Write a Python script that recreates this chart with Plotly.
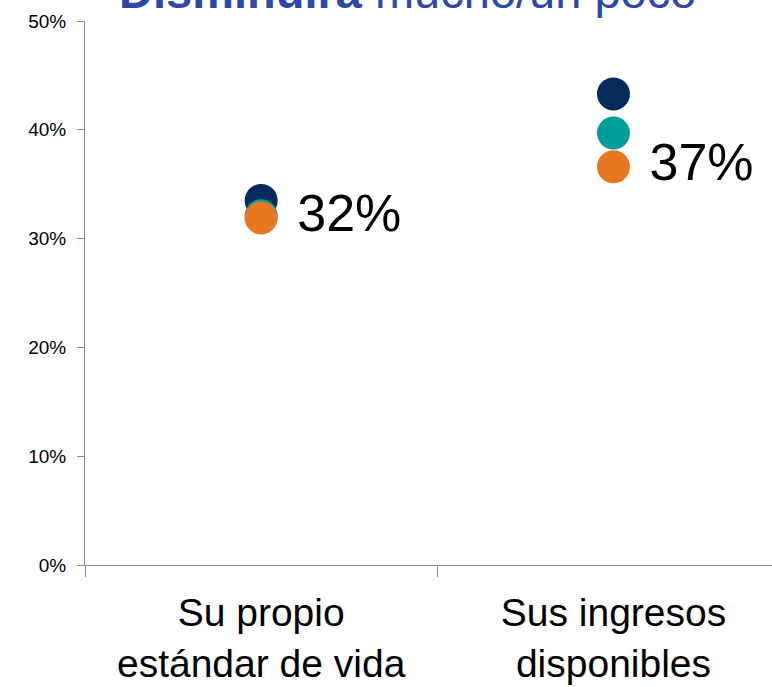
import plotly.graph_objects as go

categories = ["Su propio<br>estándar de vida", "Sus ingresos<br>disponibles"]
serie_navy = [0.335, 0.433]
serie_teal = [0.321, 0.397]
serie_orange = [0.319, 0.366]
tick_vals = [0, 0.1, 0.2, 0.3, 0.4, 0.5]
title_bold = "Disminuirá"
title_rest = "mucho/un poco"

colors = ["#052A5C", "#009E9A", "#E87722"]
series = [serie_navy, serie_teal, serie_orange]

fig = go.Figure()
for i, (vals, col) in enumerate(zip(series, colors)):
    is_last = i == len(series) - 1
    fig.add_trace(go.Scatter(
        x=categories, y=vals,
        mode="markers+text" if is_last else "markers",
        marker=dict(size=33, color=col, line=dict(width=0)),
        text=[f" {round(v*100)}%" for v in vals] if is_last else None,
        textposition="middle right",
        textfont=dict(family="Liberation Sans, Arial", size=52, color="#000000"),
        showlegend=False, cliponaxis=False,
    ))

fig.add_annotation(
    xref="paper", yref="paper", x=0.47, y=1.0539, xanchor="center", yanchor="middle",
    text=f"<b>{title_bold}</b> {title_rest}", showarrow=False,
    font=dict(family="Liberation Sans, Arial", size=47, color="#2E48A8"),
)

fig.update_layout(
    width=772, height=687,
    margin=dict(l=85, r=0, t=21, b=122, autoexpand=False),
    paper_bgcolor="white", plot_bgcolor="white",
    font=dict(family="Liberation Sans, Arial", color="#000000"),
)
fig.update_xaxes(
    type="category", range=[-0.5, 1.45], automargin=False,
    showline=True, linecolor="#8C8C8C", linewidth=1,
    ticks="outside", tickson="boundaries", ticklen=11, tickcolor="#8C8C8C",
    showgrid=False, zeroline=False,
    tickfont=dict(size=39, color="#000000"),
    ticklabelstandoff=13,
)
fig.update_yaxes(
    range=[0, 0.5], tickvals=tick_vals, tickformat=".0%", automargin=False,
    showline=True, linecolor="#8C8C8C", linewidth=1,
    ticks="outside", ticklen=7, tickcolor="#8C8C8C",
    showgrid=False, zeroline=False,
    tickfont=dict(size=19, color="#000000"),
    ticklabelstandoff=7,
)

fig.write_html("out.html", config={"displayModeBar": False},
               post_script="document.body.style.margin='0px';")
